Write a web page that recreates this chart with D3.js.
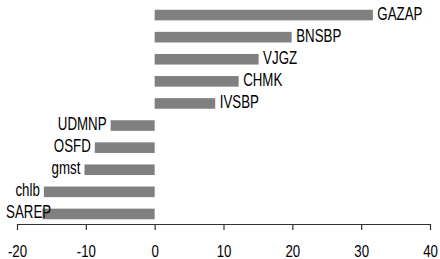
<!DOCTYPE html>
<html>
<head>
<meta charset="utf-8">
<script src="https://cdn.jsdelivr.net/npm/d3@7"></script>
<style>
  body { margin: 0; background: #fff; }
  svg { display: block; }
  text { font-family: "Liberation Sans", Arial, sans-serif; fill: #000; }
</style>
</head>
<body>
<div id="chart"></div>
<script>
// data, top to bottom
const names = ["GAZAP", "BNSBP", "VJGZ", "CHMK", "IVSBP", "UDMNP", "OSFD", "gmst", "chlb", "SAREP"];
const values = [31.7, 19.9, 15.1, 12.2, 8.8, -6.4, -8.7, -10.2, -16.1, -16.3];
const xTicks = [-20, -10, 0, 10, 20, 30, 40];

const width = 440, height = 259;
const labSqueeze = 0.74, tickSqueeze = 0.78; // text in the reference is narrow

const svg = d3.select("#chart")
  .append("svg")
  .attr("width", width)
  .attr("height", height);

const xScale = d3.scaleLinear()
  .domain([-20, 40])
  .range([17, 430]);

const yScale = d3.scaleBand()
  .domain(names)
  .range([4, 225])
  .paddingInner(0.52)
  .paddingOuter(0.26);

const rows = names.map((n, i) => ({ name: n, value: values[i] }));

// bars
svg.selectAll("rect.bar")
  .data(rows)
  .enter()
  .append("rect")
  .attr("class", "bar")
  .attr("x", d => xScale(Math.min(0, d.value)))
  .attr("width", d => Math.abs(xScale(d.value) - xScale(0)))
  .attr("y", d => yScale(d.name))
  .attr("height", yScale.bandwidth())
  .attr("fill", "#808080");

// labels next to the bar ends
svg.selectAll("text.lab")
  .data(rows)
  .enter()
  .append("text")
  .attr("class", "lab")
  .attr("font-size", 18)
  .attr("text-anchor", "start")
  .text(d => d.name)
  .each(function (d) {
    const w = this.getComputedTextLength() * labSqueeze;
    let x;
    if (d.value >= 0) {
      x = xScale(d.value) + 4.5;
    } else {
      x = Math.max(xScale(d.value) - 4 - w, 6);
    }
    const y = yScale(d.name) + yScale.bandwidth() / 2 + 4.5;
    d3.select(this).attr("transform", `translate(${x},${y}) scale(${labSqueeze},1)`);
  });

// x axis
const axis = svg.append("g")
  .attr("transform", "translate(0,224)")
  .call(d3.axisBottom(xScale).tickValues(xTicks).tickSize(6).tickSizeOuter(0).tickFormat(d3.format("d")));

axis.select(".domain").attr("stroke", "#333").attr("stroke-width", 1.2);
axis.selectAll(".tick line").attr("stroke", "#333").attr("stroke-width", 1.2);
axis.selectAll(".tick text")
  .attr("font-size", 17)
  .attr("font-family", "Liberation Sans, Arial, sans-serif")
  .attr("fill", "#000")
  .attr("y", 33)
  .attr("dy", null)
  .attr("transform", `scale(${tickSqueeze},1)`)
  .text(d => d < 0 ? "-" + Math.abs(d) : d);
</script>
</body>
</html>
